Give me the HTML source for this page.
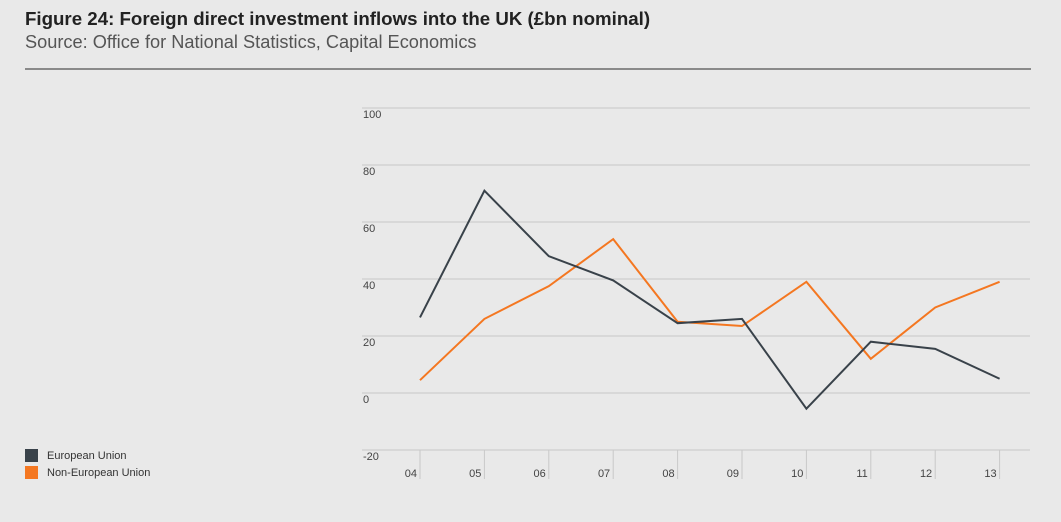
<!DOCTYPE html>
<html><head><meta charset="utf-8"><style>
body{margin:0;background:#e9e9e9;width:1061px;height:522px;overflow:hidden;font-family:"Liberation Sans",sans-serif;}
#t{position:absolute;left:25px;top:8px;font-size:18.7px;font-weight:bold;color:#222;white-space:nowrap;}
#s{position:absolute;left:25px;top:32px;font-size:18.2px;color:#555;white-space:nowrap;}
#r{position:absolute;left:25px;top:68px;width:1006px;height:2px;background:#8a8a8a;}
svg{position:absolute;left:0;top:0;}
</style></head><body>
<div id="t">Figure 24: Foreign direct investment inflows into the UK (£bn nominal)</div>
<div id="s">Source: Office for National Statistics, Capital Economics</div>
<div id="r"></div>
<svg id="c" width="1061" height="522"></svg>
<script>
const categories=["04","05","06","07","08","09","10","11","12","13"];
const euValues=[26.5,71,48,39.5,24.5,26,-5.5,18,15.5,5];
const nonEuValues=[4.5,26,37.5,54,25,23.5,39,12,30,39];
const yTicks=[100,80,60,40,20,0,-20];
const svg=document.getElementById('c');
const NS='http://www.w3.org/2000/svg';
const y=v=>393-(v)*2.85;
const x=i=>420+i*64.4;
function mk(t,a){const e=document.createElementNS(NS,t);for(const k in a)e.setAttribute(k,a[k]);svg.appendChild(e);return e;}
yTicks.forEach(v=>{
 const l=mk('line',{x1:362,x2:1030,y1:y(v),y2:y(v),stroke:'#c8c8c8','stroke-width':1});
 
 
 const t=mk('text',{x:363,y:y(v)+10,'font-size':11,fill:'#444'});t.textContent=v;
 
 
});
categories.forEach((c,i)=>{
 const l=mk('line',{x1:x(i),x2:x(i),y1:y(-20),y2:y(-20)+29,stroke:'#c8c8c8','stroke-width':1});
 
 
 const t=mk('text',{x:x(i)-3,y:y(-20)+27,'font-size':11,fill:'#444','text-anchor':'end'});t.textContent=c;
 
 
});
function line(vals,col,name){
 const p=mk('polyline',{points:vals.map((v,i)=>x(i)+','+y(v)).join(' '),fill:'none',stroke:col,'stroke-width':2});
 
 
}
line(nonEuValues,'#f47721','non-eu-line');
line(euValues,'#39424a','eu-line');
[['European Union','#39424a',455],['Non-European Union','#f47721',472]].forEach(([n,c,yy])=>{
 const r=mk('rect',{x:25,y:yy-6,width:13,height:13,fill:c});
 
 
 const t=mk('text',{x:47,y:yy+4,'font-size':11,fill:'#333'});t.textContent=n;
 
 
});
</script>
</body></html>
